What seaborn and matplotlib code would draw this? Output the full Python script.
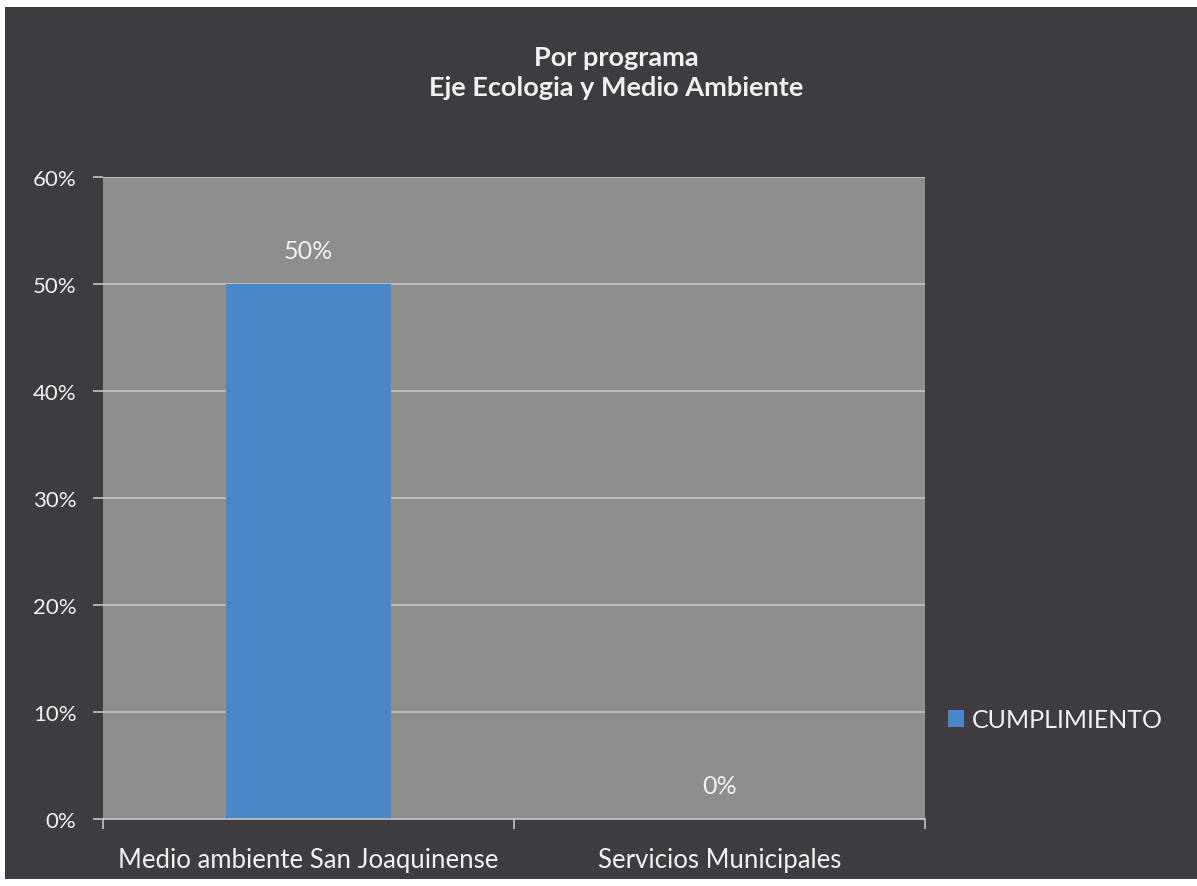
import pandas as pd
import matplotlib.pyplot as plt
import seaborn as sns
from matplotlib.patches import Rectangle
from matplotlib.ticker import PercentFormatter

programas = ["Medio ambiente San Joaquinense", "Servicios Municipales"]
cumplimiento = [0.50, 0.0]
serie = "CUMPLIMIENTO"

datos = pd.DataFrame({"Programa": programas, "Cumplimiento": cumplimiento, "Serie": serie})

sns.set_theme(style="white")
plt.rcParams["font.family"] = ["Lato", "DejaVu Sans"]

fondo = "#3e3b41"
gris = "#8d8f8d"
azul = "#4a87c9"
texto = "#f2f2f2"

fig = plt.figure(figsize=(11.97, 8.87), dpi=100, facecolor="white")
fig.patches.append(Rectangle((0.004, 0.008), 0.996, 0.983, transform=fig.transFigure,
                             facecolor=fondo, edgecolor="none", zorder=-10))
ax = fig.add_axes([0.086, 0.0755, 0.687, 0.7235])
ax.set_facecolor(gris)

sns.barplot(data=datos, x="Programa", y="Cumplimiento", hue="Serie", palette=[azul],
            width=0.4, ax=ax, saturation=1, legend=True, edgecolor="none", linewidth=0)

ax.set_ylim(0, 0.6)
ax.set_xlim(-0.5, 1.5)
ax.yaxis.set_major_formatter(PercentFormatter(1.0, decimals=0))
ax.set_yticks([0, 0.1, 0.2, 0.3, 0.4, 0.5, 0.6])
ax.grid(axis="y", color="#c4c4c4", linewidth=1.2)
ax.set_axisbelow(True)
ax.set_xlabel("")
ax.set_ylabel("")

for s in ["top", "right", "left"]:
    ax.spines[s].set_visible(False)
ax.spines["bottom"].set_color("#c4c4c4")
ax.spines["bottom"].set_linewidth(1.2)

ax.tick_params(axis="y", colors="#c4c4c4", labelcolor=texto, labelsize=16, length=7, width=1.2,
               left=True, pad=12)
ax.tick_params(axis="x", labelcolor=texto, labelsize=18.5, length=0, pad=20)
ax.set_xticks([-0.5, 0.5, 1.5], minor=True)
ax.tick_params(axis="x", which="minor", bottom=True, length=7, width=1.2, colors="#c4c4c4")

for cont in ax.containers:
    ax.bar_label(cont, labels=[f"{v:.0%}" for v in cumplimiento], padding=16,
                 color=texto, fontsize=18)

fig.text(0.515, 0.918, "Por programa\nEje Ecologia y Medio Ambiente", ha="center", va="center",
         color=texto, fontsize=19.5, fontweight="bold", linespacing=1.28)

leg = ax.legend(loc="center left", bbox_to_anchor=(1.0, 0.155), frameon=False,
                handlelength=0.65, handleheight=0.65, handletextpad=0.3, fontsize=18)
for t in leg.get_texts():
    t.set_color(texto)
for h in leg.legend_handles:
    h.set_edgecolor("none")

fig.savefig("out.png", dpi=100, facecolor=fig.get_facecolor())
